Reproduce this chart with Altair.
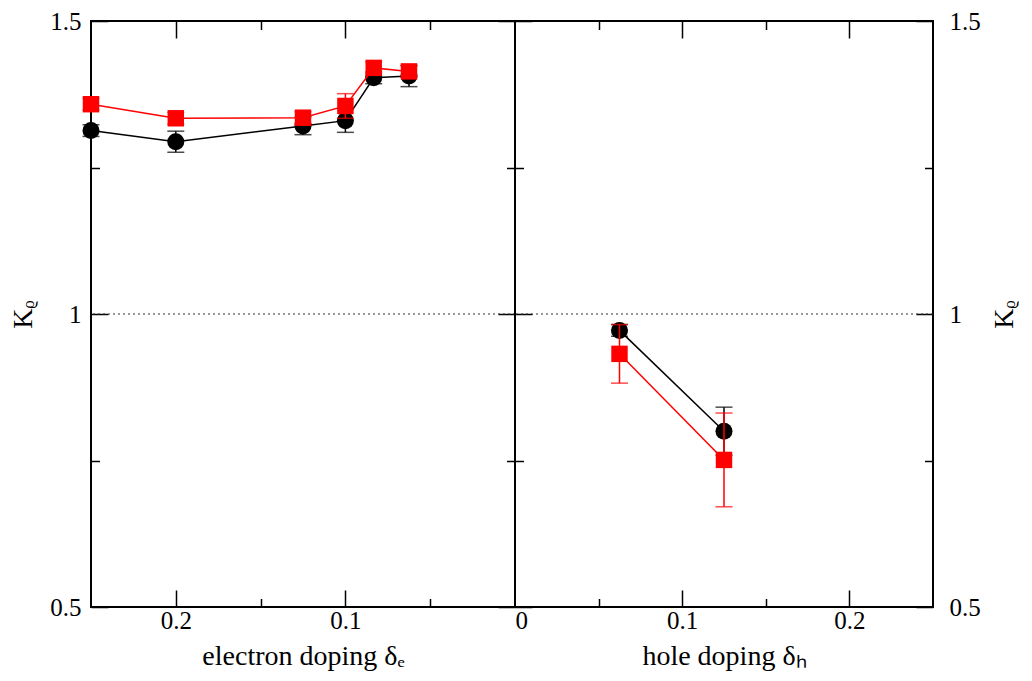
import altair as alt
import pandas as pd

FONT = "Liberation Serif"

# ---- data ----
elec_x = [0.25, 0.2, 0.125, 0.1, 0.0833, 0.0625]
elec_black = [1.313, 1.294, 1.321, 1.330, 1.403, 1.406]
elec_black_err = [0.010, 0.018, 0.015, 0.020, 0.010, 0.018]
elec_red = [1.358, 1.334, 1.335, 1.355, 1.420, 1.414]
elec_red_err = [0.010, 0.010, 0.010, 0.021, 0.010, 0.010]

hole_x = [0.0625, 0.125]
hole_black = [0.972, 0.800]
hole_black_err = [0.010, 0.041]
hole_red = [0.932, 0.751]
hole_red_err = [0.050, 0.080]

reference_level = [1.0]

y_domain = [0.5, 1.5]
y_tick_values = [0.5, 0.75, 1.0, 1.25, 1.5]
y_label_values = [0.5, 1.0, 1.5]
x_domain = [0.0, 0.25]
x_tick_values = [0.05, 0.1, 0.15, 0.2]
left_x_labels = [0.1, 0.2]
right_x_labels = [0.0, 0.1, 0.2]

H = 586
W_LEFT = 424
W_RIGHT = 418

yscale = alt.Scale(domain=y_domain, nice=False, zero=False)

MAJ_X = "abs(datum.value*10 - round(datum.value*10)) < 0.001"
MAJ_Y = "abs(datum.value*2 - round(datum.value*2)) < 0.001"
XSIZE = {"condition": {"test": MAJ_X, "value": 17}, "value": 8.5}
YSIZE = {"condition": {"test": MAJ_Y, "value": 17}, "value": 8.5}


def make_df(xs, ys, errs):
    return pd.DataFrame({
        "x": xs,
        "y": ys,
        "lo": [v - e for v, e in zip(ys, errs)],
        "hi": [v + e for v, e in zip(ys, errs)],
    })


def series_layers(df, xscale, color, shape):
    X = alt.X("x:Q", scale=xscale, axis=None)
    base = alt.Chart(df)
    line = base.mark_line(color=color, strokeWidth=1.5).encode(
        x=X, y=alt.Y("y:Q", scale=yscale, axis=None))
    bar = base.mark_rule(color=color, strokeWidth=1.5).encode(
        x=X, y=alt.Y("lo:Q", scale=yscale, axis=None), y2="hi:Q")
    cap_lo = base.mark_tick(color=color, orient="horizontal", size=17, thickness=1.5).encode(
        x=X, y=alt.Y("lo:Q", scale=yscale, axis=None))
    cap_hi = base.mark_tick(color=color, orient="horizontal", size=17, thickness=1.5).encode(
        x=X, y=alt.Y("hi:Q", scale=yscale, axis=None))
    size = 290 if shape == "circle" else 270
    pts = base.mark_point(shape=shape, filled=True, color=color, size=size, opacity=1).encode(
        x=X, y=alt.Y("y:Q", scale=yscale, axis=None))
    return [line, bar, cap_lo, cap_hi, pts]


def panel(black_df, red_df, xscale, width, xlabels, xtitle, yorient):
    tick_axis = dict(labels=False, domain=False, grid=False, ticks=True,
                     tickColor="black", tickWidth=1.5, title=None)
    label_axis = dict(ticks=False, domain=False, grid=False, format="~g",
                      labelFont=FONT, labelFontSize=25, labelColor="black",
                      titleFont=FONT, titleFontWeight="normal",
                      titleColor="black")
    if yorient == "left":
        y_extra = dict(labelPadding=10, titlePadding=12, titleBaseline="bottom")
    else:
        y_extra = dict(labelPadding=16, titlePadding=10, titleBaseline="top")
    base = alt.Chart(black_df).mark_point(opacity=0)
    # outer labels and titles
    layer_a = base.encode(
        x=alt.X("x:Q", scale=xscale, axis=alt.Axis(
            orient="bottom", values=xlabels, title=xtitle, titleFontSize=28,
            labelPadding=1, titlePadding=9, **label_axis)),
        y=alt.Y("y:Q", scale=yscale, axis=alt.Axis(
            orient=yorient, values=y_label_values, title="Kᵨ", titleAngle=270,
            titleFontSize=28, **y_extra, **label_axis)),
    )
    # inward ticks on bottom and left edges
    layer_b = base.encode(
        x=alt.X("x:Q", scale=xscale, axis=alt.Axis(
            orient="top", offset=-H, values=x_tick_values, tickSize=XSIZE, **tick_axis)),
        y=alt.Y("y:Q", scale=yscale, axis=alt.Axis(
            orient="right", offset=-width, values=y_tick_values, tickSize=YSIZE, **tick_axis)),
    )
    # inward ticks on top and right edges
    layer_c = base.encode(
        x=alt.X("x:Q", scale=xscale, axis=alt.Axis(
            orient="bottom", offset=-H, values=x_tick_values, tickSize=XSIZE, **tick_axis)),
        y=alt.Y("y:Q", scale=yscale, axis=alt.Axis(
            orient="left", offset=-width, values=y_tick_values, tickSize=YSIZE, **tick_axis)),
    )
    ref = alt.Chart(pd.DataFrame({"y": reference_level})).mark_rule(
        color="#333333", strokeWidth=1, strokeDash=[2, 3]).encode(
        y=alt.Y("y:Q", scale=yscale, axis=None))
    layers = [layer_a, layer_b, layer_c, ref]
    layers += series_layers(black_df, xscale, "black", "circle")
    layers += series_layers(red_df, xscale, "#ff0000", "square")
    return alt.layer(*layers).resolve_axis(x="independent", y="independent").properties(
        width=width, height=H)


left = panel(
    make_df(elec_x, elec_black, elec_black_err),
    make_df(elec_x, elec_red, elec_red_err),
    alt.Scale(domain=x_domain, reverse=True, nice=False, zero=False),
    W_LEFT, left_x_labels, "electron doping δₑ", "left")

right = panel(
    make_df(hole_x, hole_black, hole_black_err),
    make_df(hole_x, hole_red, hole_red_err),
    alt.Scale(domain=x_domain, nice=False, zero=False),
    W_RIGHT, right_x_labels, "hole doping δₕ", "right")

chart = alt.hconcat(left, right, spacing=0, bounds="flush").configure_view(
    stroke="black", strokeWidth=2
).configure_axis(grid=False).properties(
    padding={"left": 0, "top": 0, "right": 0, "bottom": 0}
)

chart.save("out.html", embed_options={"renderer": "svg", "actions": False})
